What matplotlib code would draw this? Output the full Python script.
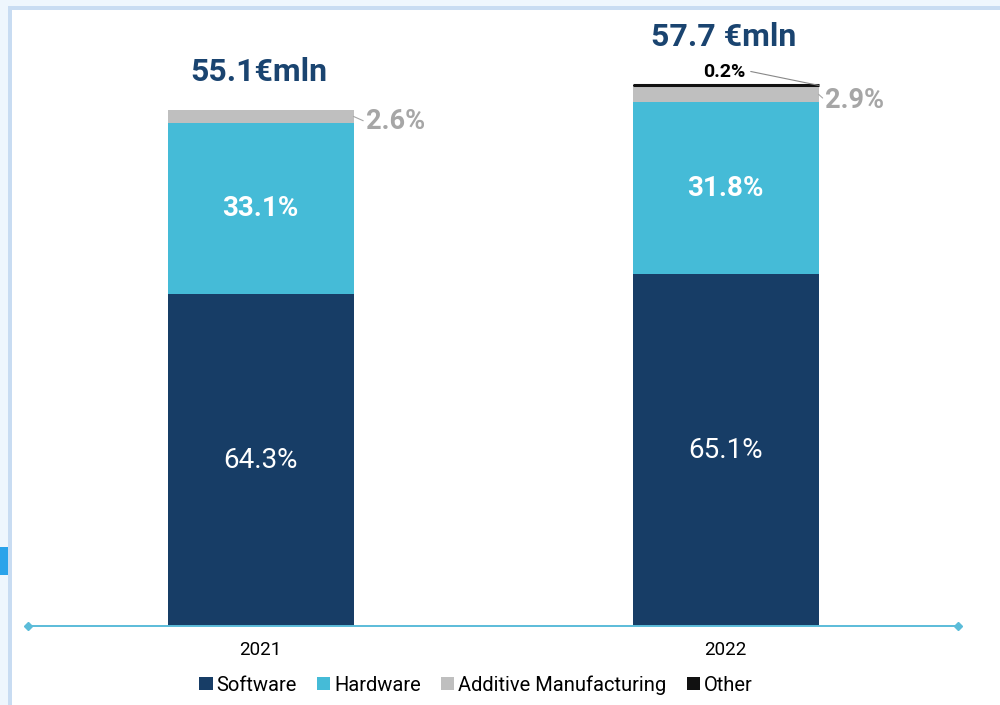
import matplotlib
matplotlib.use("Agg")
import matplotlib.pyplot as plt
from matplotlib.patches import Rectangle, Patch

plt.rcParams["font.family"] = ["Roboto", "DejaVu Sans"]

YEARS = ["2021", "2022"]
TOTALS = [55.1, 57.7]
TOTAL_LABELS = ["55.1€mln", "57.7 €mln"]
SEGMENTS = ["Software", "Hardware", "Additive Manufacturing", "Other"]
SOFTWARE_PCT = [64.3, 65.1]
HARDWARE_PCT = [33.1, 31.8]
ADDITIVE_PCT = [2.6, 2.9]
OTHER_PCT = [0.0, 0.2]

COLORS = ["#173d66", "#45bbd7", "#bfbfbf", "#111111"]
NAVY = "#1a4470"
GREY_TXT = "#a6a6a6"

fig = plt.figure(figsize=(10, 7.05), dpi=100)

# slide-like frame around the chart
fig.patches.append(Rectangle((0, 0), 1, 1, transform=fig.transFigure,
                             facecolor="#eef6fd", edgecolor="none", zorder=-3))
fig.patches.append(Rectangle((0.008, 0), 1, 1 - 0.008, transform=fig.transFigure,
                             facecolor="#c8dcf2", edgecolor="none", zorder=-2))
fig.patches.append(Rectangle((0.012, 0), 1, 1 - 0.014, transform=fig.transFigure,
                             facecolor="white", edgecolor="none", zorder=-1))
fig.patches.append(Rectangle((0, 1 - 575 / 705), 0.008, 28 / 705,
                             transform=fig.transFigure, facecolor="#2aa3ea",
                             edgecolor="none", zorder=-2))

ax = fig.add_axes([0.028, 79 / 705, 0.93, 606 / 705])
ax.patch.set_alpha(0)

x = [0, 1]
width = 0.4
pcts = [SOFTWARE_PCT, HARDWARE_PCT, ADDITIVE_PCT, OTHER_PCT]
bottoms = [0.0, 0.0]
seg_vals = []
for pct, color in zip(pcts, COLORS):
    vals = [t * p / 100 for t, p in zip(TOTALS, pct)]
    ax.bar(x, vals, width, bottom=bottoms, color=color, edgecolor="none", zorder=2)
    seg_vals.append((list(bottoms), vals))
    bottoms = [b + v for b, v in zip(bottoms, vals)]

# other segment is tiny, draw it as a line on top
ax.plot([1 - width / 2, 1 + width / 2], [TOTALS[1], TOTALS[1]], color=COLORS[3],
        lw=2.2, solid_capstyle="butt", zorder=3)

am_offsets = [(9, -4), (5, -4.5)]
for i in range(2):
    b, v = seg_vals[0][0][i], seg_vals[0][1][i]
    ax.text(x[i], b + v / 2, f"{SOFTWARE_PCT[i]}%", ha="center", va="center",
            color="white", fontsize=20)
    b, v = seg_vals[1][0][i], seg_vals[1][1][i]
    ax.text(x[i], b + v / 2, f"{HARDWARE_PCT[i]}%", ha="center", va="center",
            color="white", fontsize=20, fontweight="bold")
    # additive manufacturing callout
    b, v = seg_vals[2][0][i], seg_vals[2][1][i]
    ax.annotate(f"{ADDITIVE_PCT[i]}%", xy=(x[i] + width / 2, b + v / 2),
                xytext=am_offsets[i], textcoords="offset points", ha="left",
                va="center", color=GREY_TXT, fontsize=19.5, fontweight="bold",
                arrowprops=dict(arrowstyle="-", color=GREY_TXT, lw=0.8,
                                shrinkA=0, shrinkB=0, relpos=(0, 0.5)))

# other label
ax.annotate(f"{OTHER_PCT[1]}%", xy=(1 + width / 2, TOTALS[1]),
            xytext=(-68, 9.5), textcoords="offset points", ha="center", va="center",
            color="black", fontsize=14, fontweight="bold",
            arrowprops=dict(arrowstyle="-", color="#888888", lw=0.8,
                            shrinkA=2, shrinkB=0, relpos=(1, 0.6)))

# totals
ax.annotate(TOTAL_LABELS[0], xy=(x[0], TOTALS[0]), xytext=(-1, 27.5),
            textcoords="offset points", ha="center", va="center",
            color=NAVY, fontsize=23, fontweight="bold")
ax.annotate(TOTAL_LABELS[1], xy=(x[1], TOTALS[1]), xytext=(-1, 34.5),
            textcoords="offset points", ha="center", va="center",
            color=NAVY, fontsize=23, fontweight="bold")

ax.set_xlim(-0.5, 1.5)
ax.set_ylim(0, 606 / 9.37)
ax.set_xticks(x)
ax.set_xticklabels(YEARS, fontsize=13.5)
ax.tick_params(axis="x", length=0, pad=11)
ax.set_yticks([])
for s in ["top", "left", "right", "bottom"]:
    ax.spines[s].set_visible(False)
ax.plot([-0.5, 1.5], [0, 0], color="#5bbcd9", lw=1.4, marker="D", markersize=4,
        clip_on=False, zorder=4)

handles = [Patch(facecolor=c, edgecolor="none") for c in COLORS]
fig.legend(handles, SEGMENTS, loc="center", bbox_to_anchor=(0.476, 1 - 685 / 705),
           ncol=4, frameon=False, fontsize=14.5, handlelength=0.65, handleheight=0.65,
           handletextpad=0.2, columnspacing=1.0)

fig.savefig("out.png", dpi=100)
